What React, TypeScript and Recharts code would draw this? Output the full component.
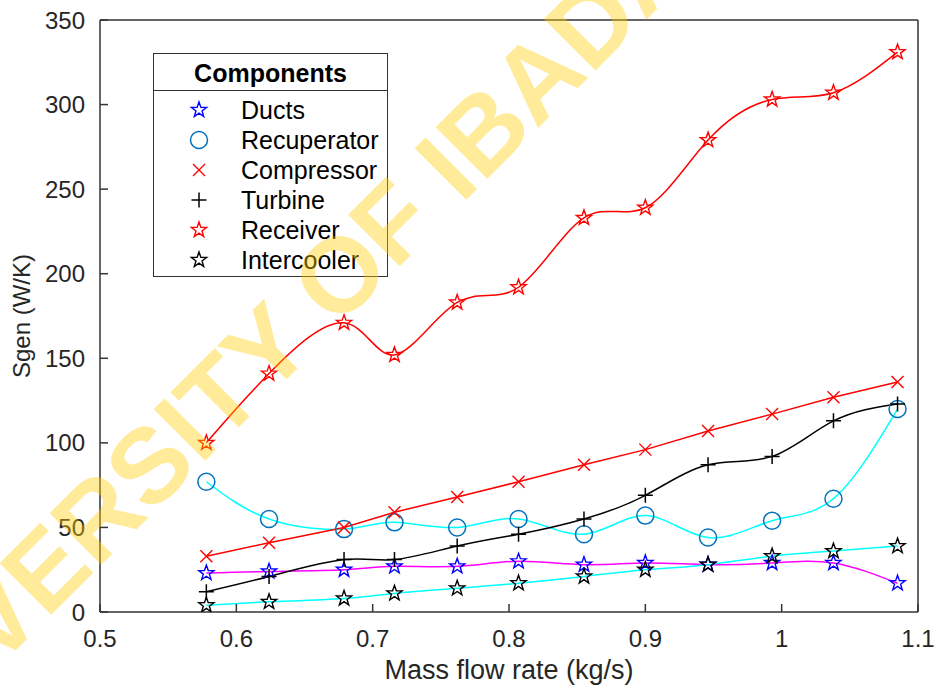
import React from "react";
import { Legend, Line, LineChart, XAxis, YAxis } from "recharts";

const massFlow = [0.578, 0.624, 0.679, 0.716, 0.762, 0.807, 0.855, 0.9, 0.946, 0.993, 1.038, 1.085];
const ducts = [23, 24, 25, 27, 27, 30, 28, 29, 28, 29, 29, 17];
const recuperator = [77, 55, 49, 53, 50, 55, 46, 57, 44, 54, 67, 120];
const compressor = [33, 41, 50, 59, 68, 77, 87, 96, 107, 117, 127, 136];
const turbine = [12, 21, 31, 31, 39, 46, 55, 69, 87, 92, 113, 123];
const receiver = [100, 141, 171, 152, 183, 192, 233, 239, 279, 303, 307, 331];
const intercooler = [4, 6, 8, 11, 14, 17, 21, 25, 28, 33, 36, 39];

const xTicks = [0.5, 0.6, 0.7, 0.8, 0.9, 1, 1.1];
const yTicks = [0, 50, 100, 150, 200, 250, 300, 350];

const data = massFlow.map((m, i) => ({
  m,
  ducts: ducts[i],
  recuperator: recuperator[i],
  compressor: compressor[i],
  turbine: turbine[i],
  receiver: receiver[i],
  intercooler: intercooler[i],
}));

type MarkerKind = "star" | "circle" | "cross" | "plus";

const series: {
  key: string;
  name: string;
  line: string;
  marker: MarkerKind;
  markerColor: string;
  curve: "natural" | "linear";
}[] = [
  { key: "ducts", name: "Ducts", line: "#ff00ff", marker: "star", markerColor: "#0000ff", curve: "natural" },
  { key: "recuperator", name: "Recuperator", line: "#00ffff", marker: "circle", markerColor: "#0072bd", curve: "natural" },
  { key: "compressor", name: "Compressor", line: "#ff0000", marker: "cross", markerColor: "#ff0000", curve: "linear" },
  { key: "turbine", name: "Turbine", line: "#000000", marker: "plus", markerColor: "#000000", curve: "natural" },
  { key: "receiver", name: "Receiver", line: "#ff0000", marker: "star", markerColor: "#ff0000", curve: "natural" },
  { key: "intercooler", name: "Intercooler", line: "#00ffff", marker: "star", markerColor: "#000000", curve: "natural" },
];

const FONT = "'Liberation Sans', Arial, sans-serif";
const AXIS = "#333333";
const TEXT = "#262626";

function starPath(cx: number, cy: number, r: number) {
  const inner = r * 0.4;
  const pts: string[] = [];
  for (let i = 0; i < 10; i++) {
    const rad = i % 2 === 0 ? r : inner;
    const a = -Math.PI / 2 + (i * Math.PI) / 5;
    pts.push(`${(cx + rad * Math.cos(a)).toFixed(2)},${(cy + rad * Math.sin(a)).toFixed(2)}`);
  }
  return `M${pts.join("L")}Z`;
}

function Marker({ kind, cx, cy, color }: { kind: MarkerKind; cx: number; cy: number; color: string }) {
  if (kind === "circle") {
    return <circle cx={cx} cy={cy} r={8.5} fill="none" stroke={color} strokeWidth={1.5} />;
  }
  if (kind === "cross") {
    const s = 6;
    return (
      <path
        d={`M${cx - s},${cy - s}L${cx + s},${cy + s}M${cx - s},${cy + s}L${cx + s},${cy - s}`}
        stroke={color}
        strokeWidth={1.4}
        fill="none"
      />
    );
  }
  if (kind === "plus") {
    const s = 7.5;
    return (
      <path
        d={`M${cx - s},${cy}L${cx + s},${cy}M${cx},${cy - s}L${cx},${cy + s}`}
        stroke={color}
        strokeWidth={1.5}
        fill="none"
      />
    );
  }
  return <path d={starPath(cx, cy, 8)} fill="none" stroke={color} strokeWidth={1.4} strokeLinejoin="miter" />;
}

function LegendBox() {
  return (
    <div
      style={{
        width: 235,
        height: 224,
        boxSizing: "border-box",
        border: `1.5px solid ${AXIS}`,
        background: "#fff",
        fontFamily: FONT,
        color: "#000",
      }}
    >
      <div
        style={{
          height: 36,
          borderBottom: `1.5px solid ${AXIS}`,
          textAlign: "center",
          fontWeight: "bold",
          fontSize: 25,
          lineHeight: "38px",
        }}
      >
        Components
      </div>
      {series.map((s, i) => (
        <div key={s.key} style={{ position: "relative", height: 30, marginTop: i === 0 ? 4 : 0 }}>
          <svg width={30} height={30} style={{ position: "absolute", left: 30, top: 0 }}>
            <Marker kind={s.marker} cx={15} cy={15} color={s.markerColor} />
          </svg>
          <span style={{ position: "absolute", left: 87, top: 0, fontSize: 25, lineHeight: "30px" }}>{s.name}</span>
        </div>
      ))}
    </div>
  );
}

export default function App() {
  return (
    <div style={{ position: "absolute", left: 0, top: 0, width: 935, height: 687, background: "#fff" }}>
      <LineChart
        width={935}
        height={687}
        data={data}
        margin={{ top: 19, right: 16, bottom: 0, left: 0 }}
        style={{ fontFamily: FONT }}
      >
        <XAxis
          dataKey="m"
          type="number"
          domain={[0.5, 1.1]}
          ticks={xTicks}
          allowDataOverflow
          height={75}
          tickSize={-8}
          tickMargin={26}
          stroke={AXIS}
          strokeWidth={1.5}
          tick={{ fill: TEXT, fontSize: 24 }}
          tickFormatter={(v: number) => String(v)}
          label={{
            value: "Mass flow rate (kg/s)",
            position: "insideBottom",
            offset: 8,
            style: { fill: TEXT, fontSize: 27 },
          }}
        />
        <XAxis
          xAxisId="top"
          orientation="top"
          type="number"
          domain={[0.5, 1.1]}
          ticks={xTicks}
          allowDataOverflow
          height={1}
          tickSize={-8}
          tick={false}
          stroke={AXIS}
          strokeWidth={1.5}
        />
        <YAxis
          type="number"
          domain={[0, 350]}
          ticks={yTicks}
          allowDataOverflow
          width={100}
          tickSize={-8}
          tickMargin={23}
          stroke={AXIS}
          strokeWidth={1.5}
          tick={{ fill: TEXT, fontSize: 24 }}
          label={{
            value: "Sgen (W/K)",
            angle: -90,
            position: "insideLeft",
            offset: 21,
            style: { fill: TEXT, fontSize: 24, textAnchor: "middle" },
          }}
        />
        <YAxis
          yAxisId="right"
          orientation="right"
          type="number"
          domain={[0, 350]}
          ticks={yTicks}
          allowDataOverflow
          width={1}
          tickSize={-8}
          tick={false}
          stroke={AXIS}
          strokeWidth={1.5}
        />
        <Legend
          layout="horizontal"
          verticalAlign="middle"
          align="center"
          content={() => <LegendBox />}
          wrapperStyle={{ position: "absolute", left: 153, top: 53, width: 235, height: 224 }}
        />
        {series.map((s) => (
          <Line
            key={s.key}
            dataKey={s.key}
            name={s.name}
            type={s.curve}
            stroke={s.line}
            strokeWidth={1.5}
            isAnimationActive={false}
            activeDot={false}
            dot={(p: any) => (
              <Marker key={`${s.key}-${p.index}`} kind={s.marker} cx={p.cx} cy={p.cy} color={s.markerColor} />
            )}
          />
        ))}
      </LineChart>
      <svg
        width={935}
        height={687}
        style={{ position: "absolute", left: 0, top: 0, pointerEvents: "none" }}
      >
        <text
          x={310}
          y={356}
          transform="rotate(-45 310 356)"
          textAnchor="middle"
          fontFamily={FONT}
          fontWeight="bold"
          fontSize={106}
          fill="rgba(255, 204, 0, 0.4)"
        >
          UNIVERSITY OF IBADAN
        </text>
      </svg>
    </div>
  );
}
